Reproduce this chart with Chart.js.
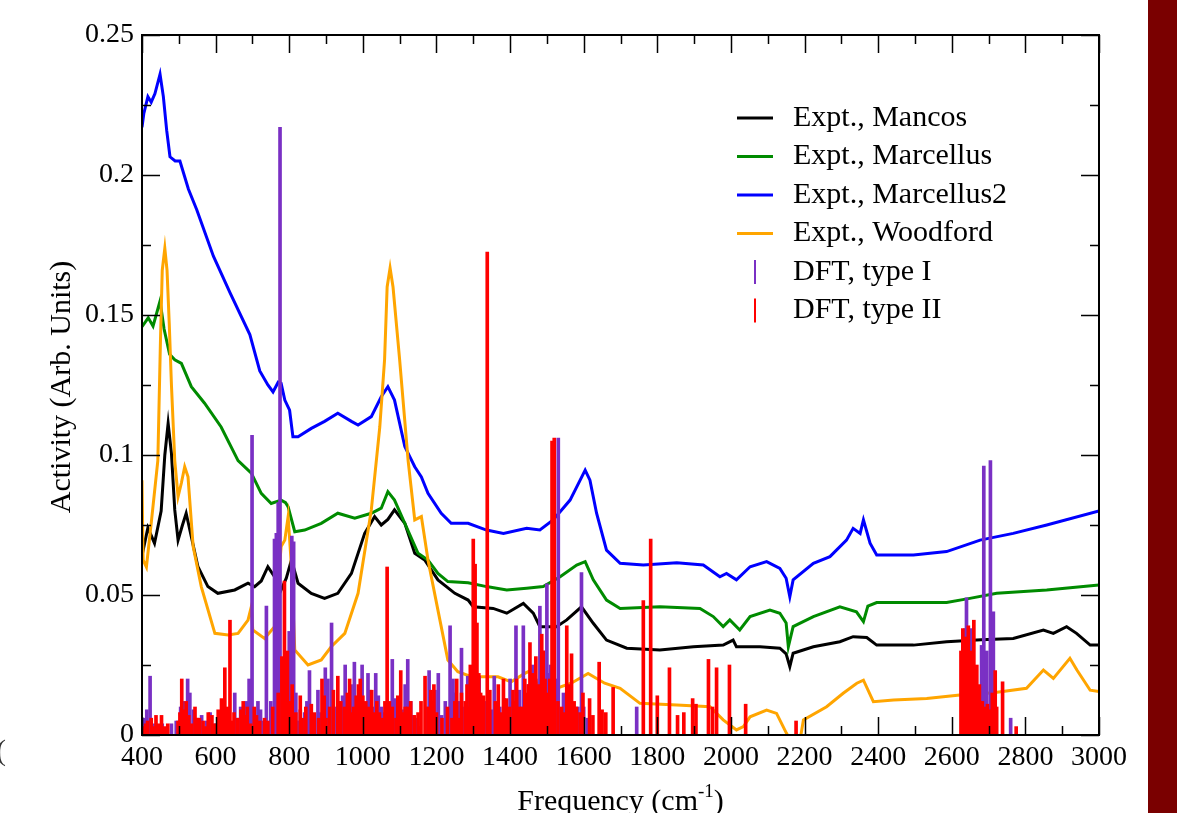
<!DOCTYPE html>
<html>
<head>
<meta charset="utf-8">
<script src="https://cdn.jsdelivr.net/npm/chart.js@4.4.1/dist/chart.umd.min.js"></script>
<style>
  body { margin: 0; background: #fff; }
  #wrap { position: relative; width: 1177px; height: 813px; overflow: hidden; }
  #side { position: absolute; left: 1148px; top: 0; width: 29px; height: 813px; background: #7a0000; }
  #frag { position: absolute; left: -4px; top: 733px; font: 30px "Liberation Serif", serif; color: #333; }
</style>
</head>
<body>
<div id="wrap">
  <canvas id="spectra" width="1177" height="813"></canvas>
  <div id="side"></div>
  <div id="frag">(</div>
</div>
<script>
// x ticks / y ticks
const xTickVals = [400, 600, 800, 1000, 1200, 1400, 1600, 1800, 2000, 2200, 2400, 2600, 2800, 3000];
const yTickVals = [0, 0.05, 0.1, 0.15, 0.2, 0.25];
const yTickLabels = ['0', '0.05', '0.1', '0.15', '0.2', '0.25'];

const seriesNames = ['Expt., Mancos', 'Expt., Marcellus', 'Expt., Marcellus2', 'Expt., Woodford', 'DFT, type I', 'DFT, type II'];
const seriesColors = ['#000000', '#008b00', '#0000ff', '#ffa500', '#7a30c4', '#ff0000'];

// Mancos (black)
const mancosFreq = [400,416,434,452,462,471,480,489,498,510,520,534,552,579,606,652,688,706,724,742,760,778,792,806,824,860,896,932,969,1005,1032,1050,1068,1086,1114,1141,1168,1204,1250,1286,1300,1354,1391,1436,1463,1481,1526,1554,1594,1626,1662,1717,1807,1898,1979,2006,2015,2079,2133,2150,2160,2169,2224,2296,2332,2369,2396,2496,2586,2680,2767,2849,2876,2912,2939,2976,3000];
const mancosVal = [0.064,0.074,0.0685,0.080,0.100,0.1113,0.1006,0.0804,0.0696,0.075,0.0792,0.0708,0.0601,0.053,0.0506,0.0518,0.0542,0.053,0.055,0.0601,0.0565,0.0518,0.056,0.0625,0.0542,0.0506,0.0488,0.0506,0.0577,0.072,0.078,0.075,0.077,0.0804,0.0756,0.0649,0.0625,0.0554,0.0506,0.0482,0.0458,0.0452,0.0435,0.047,0.0435,0.0387,0.0387,0.0411,0.0458,0.0399,0.0339,0.031,0.0304,0.0315,0.0321,0.0339,0.0315,0.0315,0.031,0.029,0.0244,0.0292,0.0315,0.0333,0.0351,0.0348,0.0321,0.0321,0.0333,0.034,0.0345,0.0375,0.0363,0.0387,0.0363,0.0321,0.0321];

// Marcellus (green)
const marcellusFreq = [400,417,430,449,460,475,489,507,534,570,615,661,697,724,751,778,790,797,815,842,887,932,978,1023,1050,1068,1086,1114,1150,1177,1204,1231,1286,1336,1391,1445,1490,1536,1581,1604,1626,1662,1699,1807,1916,1952,1979,1997,2024,2052,2106,2133,2150,2156,2169,2224,2296,2341,2360,2372,2396,2496,2586,2649,2722,2858,3000];
const marcellusVal = [0.1458,0.149,0.146,0.155,0.145,0.136,0.134,0.1327,0.1244,0.1185,0.110,0.098,0.0935,0.0863,0.0827,0.0839,0.083,0.0815,0.0726,0.0732,0.0756,0.0792,0.0774,0.0792,0.081,0.0869,0.0839,0.0756,0.0649,0.0625,0.0577,0.0548,0.0544,0.053,0.0518,0.0524,0.053,0.0565,0.0607,0.0619,0.0554,0.0482,0.0452,0.0458,0.0452,0.0423,0.0387,0.0411,0.0375,0.0423,0.0446,0.0435,0.040,0.0315,0.0387,0.0423,0.0458,0.044,0.0405,0.046,0.0473,0.0473,0.0473,0.0488,0.0506,0.0518,0.0536];

// Marcellus2 (blue)
const marcellus2Freq = [400,405,416,425,435,449,458,467,476,490,503,526,549,594,639,693,720,742,756,770,778,788,801,810,824,860,896,932,969,987,1023,1050,1068,1086,1114,1141,1159,1177,1213,1240,1286,1336,1382,1445,1481,1517,1563,1604,1617,1635,1662,1699,1762,1853,1925,1970,1988,2015,2052,2097,2133,2150,2160,2169,2224,2269,2314,2332,2351,2360,2378,2396,2496,2586,2677,2767,2858,3000];
const marcellus2Val = [0.217,0.222,0.228,0.226,0.229,0.236,0.228,0.216,0.2065,0.205,0.205,0.195,0.1875,0.171,0.158,0.143,0.130,0.125,0.1225,0.126,0.1256,0.1196,0.116,0.1065,0.1065,0.1095,0.112,0.1149,0.112,0.1107,0.1137,0.1208,0.1244,0.1196,0.103,0.0958,0.0922,0.0863,0.0792,0.0756,0.0756,0.0732,0.072,0.0738,0.0732,0.0768,0.0839,0.0946,0.091,0.0792,0.066,0.0613,0.0607,0.0615,0.0607,0.0565,0.0577,0.0554,0.0601,0.0619,0.0595,0.056,0.0494,0.0554,0.0613,0.0637,0.0696,0.0738,0.072,0.0768,0.0685,0.0643,0.0643,0.0655,0.0696,0.072,0.075,0.080];

// Woodford (orange)
const woodfordFreq = [400,403,412,425,443,450,455,462,468,474,480,489,498,507,516,525,539,561,598,634,661,688,697,701,733,760,778,788,797,806,815,851,887,914,951,987,1023,1046,1059,1066,1074,1082,1100,1123,1141,1159,1177,1204,1231,1258,1295,1367,1403,1440,1458,1476,1512,1566,1612,1657,1699,1753,1853,1943,1979,2015,2034,2052,2097,2124,2151,2170,2185,2197,2260,2305,2342,2360,2387,2442,2532,2622,2713,2803,2849,2876,2921,2940,2976,3000];
const woodfordVal = [0.091,0.0625,0.060,0.0756,0.098,0.140,0.166,0.1738,0.166,0.147,0.125,0.098,0.0851,0.090,0.0958,0.0922,0.0673,0.053,0.0363,0.0357,0.0363,0.041,0.0458,0.0375,0.0345,0.0387,0.0673,0.0696,0.078,0.0601,0.0304,0.025,0.0268,0.0315,0.0363,0.0506,0.0804,0.110,0.134,0.160,0.1668,0.160,0.134,0.098,0.0768,0.078,0.0625,0.0446,0.0268,0.0226,0.0208,0.0208,0.019,0.022,0.0232,0.0173,0.016,0.0185,0.022,0.0185,0.0167,0.0113,0.0107,0.0101,0.0054,0.0018,0.003,0.0065,0.0089,0.0077,0.0006,-0.004,-0.004,0.0054,0.0101,0.0149,0.0185,0.0196,0.0119,0.0125,0.013,0.0143,0.0151,0.0167,0.0232,0.0202,0.0274,0.0232,0.016,0.0155];

// DFT type I (purple sticks)
const dft1Freq = [405,413,422,430,445,455,480,493,505,512,524,530,540,550,562,576,585,600,612,630,640,652,662,668,678,684,691,699,707,715,722,728,738,745,750,760,765,770,775,782,790,800,807,812,818,825,830,842,848,855,862,868,878,885,898,905,915,922,935,945,952,958,968,977,985,998,1005,1014,1020,1028,1035,1042,1050,1060,1080,1088,1096,1102,1108,1115,1122,1130,1138,1145,1155,1172,1180,1188,1196,1205,1214,1224,1237,1245,1252,1260,1268,1276,1285,1295,1308,1316,1322,1330,1340,1350,1357,1372,1384,1392,1400,1408,1416,1425,1436,1443,1450,1456,1462,1470,1476,1481,1490,1495,1500,1505,1510,1518,1525,1531,1540,1545,1556,1584,1594,1600,1610,1744,2629,2636,2640,2654,2665,2681,2687,2695,2705,2713,2760];
const dft1Val = [0.006,0.009,0.021,0.004,0.003,0.004,0.004,0.005,0.010,0.012,0.020,0.015,0.009,0.006,0.007,0.005,0.008,0.004,0.005,0.006,0.004,0.015,0.006,0.010,0.008,0.012,0.020,0.107,0.006,0.012,0.009,0.005,0.046,0.004,0.012,0.070,0.072,0.083,0.217,0.025,0.020,0.037,0.071,0.069,0.015,0.005,0.009,0.008,0.012,0.023,0.006,0.006,0.016,0.008,0.024,0.020,0.040,0.010,0.012,0.014,0.025,0.009,0.018,0.026,0.012,0.025,0.009,0.022,0.016,0.010,0.022,0.014,0.010,0.008,0.027,0.013,0.010,0.008,0.009,0.018,0.027,0.012,0.007,0.006,0.003,0.010,0.023,0.012,0.016,0.022,0.007,0.012,0.039,0.020,0.015,0.012,0.031,0.010,0.021,0.014,0.010,0.021,0.008,0.012,0.012,0.009,0.021,0.010,0.013,0.008,0.020,0.012,0.039,0.016,0.039,0.010,0.018,0.014,0.025,0.020,0.012,0.046,0.030,0.018,0.054,0.022,0.025,0.012,0.020,0.106,0.009,0.015,0.008,0.010,0.058,0.010,0.006,0.010,0.021,0.038,0.049,0.038,0.020,0.032,0.096,0.030,0.098,0.044,0.006];

// DFT type II (red sticks)
const dft2Freq = [402,410,415,425,432,438,445,453,462,470,498,503,508,516,520,527,535,544,548,556,566,572,580,590,597,607,616,620,625,632,639,645,650,660,669,675,683,686,695,705,711,720,733,742,755,770,780,787,795,800,808,818,830,835,845,860,868,880,889,895,900,910,920,932,940,950,958,964,970,975,982,988,993,1000,1008,1016,1024,1030,1038,1045,1052,1060,1066,1072,1080,1090,1095,1103,1108,1115,1122,1130,1140,1150,1158,1169,1178,1185,1193,1200,1215,1230,1242,1250,1255,1262,1268,1278,1283,1288,1292,1296,1300,1305,1310,1315,1320,1328,1338,1345,1360,1368,1376,1382,1390,1398,1408,1412,1418,1426,1432,1440,1445,1450,1454,1460,1466,1470,1478,1486,1490,1495,1500,1508,1514,1520,1530,1540,1548,1554,1560,1567,1574,1580,1590,1598,1616,1625,1642,1650,1660,1680,1762,1782,1800,1833,1855,1872,1896,1905,1939,1950,1961,1996,2040,2177,2625,2630,2634,2638,2642,2645,2650,2655,2660,2664,2668,2672,2675,2678,2683,2692,2697,2700,2705,2710,2714,2718,2722,2738,2775];
const dft2Val = [0.003,0.004,0.005,0.006,0.003,0.007,0.004,0.007,0.003,0.004,0.005,0.008,0.020,0.009,0.012,0.007,0.004,0.010,0.006,0.006,0.005,0.003,0.008,0.007,0.004,0.009,0.013,0.007,0.024,0.010,0.041,0.005,0.008,0.006,0.009,0.012,0.007,0.010,0.004,0.010,0.007,0.005,0.006,0.005,0.010,0.015,0.028,0.055,0.030,0.012,0.018,0.008,0.014,0.006,0.010,0.011,0.008,0.006,0.020,0.014,0.006,0.010,0.016,0.021,0.012,0.010,0.015,0.020,0.008,0.010,0.014,0.018,0.020,0.014,0.012,0.010,0.016,0.008,0.012,0.008,0.006,0.012,0.060,0.012,0.010,0.006,0.014,0.023,0.008,0.010,0.010,0.012,0.007,0.008,0.012,0.021,0.010,0.016,0.018,0.008,0.006,0.010,0.006,0.012,0.020,0.006,0.015,0.012,0.018,0.010,0.025,0.020,0.070,0.061,0.040,0.022,0.015,0.014,0.1725,0.016,0.012,0.018,0.008,0.020,0.013,0.010,0.016,0.012,0.020,0.010,0.010,0.020,0.015,0.018,0.033,0.022,0.012,0.028,0.018,0.036,0.030,0.020,0.015,0.020,0.105,0.106,0.012,0.010,0.008,0.039,0.018,0.029,0.012,0.010,0.008,0.015,0.013,0.007,0.026,0.009,0.008,0.017,0.048,0.070,0.014,0.024,0.007,0.008,0.013,0.011,0.027,0.010,0.024,0.025,0.011,0.005,0.030,0.038,0.020,0.035,0.022,0.039,0.030,0.028,0.041,0.020,0.025,0.016,0.018,0.012,0.012,0.010,0.011,0.008,0.009,0.015,0.012,0.023,0.010,0.019,0.003];

// pair up two arrays, sorted by frequency
const xy = (xs, ys) => xs.map((x, i) => ({ x: x, y: ys[i] })).sort((a, b) => a.x - b.x);
const serif = '"Liberation Serif", "Times New Roman", serif';

function lineSet(i, xs, ys, order) {
    return {
        type: 'line', label: seriesNames[i], data: xy(xs, ys),
        borderColor: seriesColors[i], borderWidth: 3, pointRadius: 0,
        tension: 0, fill: false, order: order
    };
}
function stickSet(i, xs, ys, order) {
    return {
        type: 'bar', label: seriesNames[i], data: xy(xs, ys),
        backgroundColor: seriesColors[i], borderWidth: 0,
        barThickness: 3, grouped: false, order: order
    };
}

// frame, inward ticks, legend and axis titles
const decor = {
    id: 'decor',
    afterDatasetsDraw(chart) {
        const { ctx, chartArea: a, scales: { x, y } } = chart;
        ctx.save();
        ctx.strokeStyle = '#000';
        ctx.lineWidth = 1.5;
        ctx.beginPath();
        for (let v = 400; v <= 3000; v += 100) {
            const len = v % 200 === 0 ? 18 : 9;
            const px = Math.round(x.getPixelForValue(v)) + 0.5;
            ctx.moveTo(px, a.bottom); ctx.lineTo(px, a.bottom - len);
            ctx.moveTo(px, a.top); ctx.lineTo(px, a.top + len);
        }
        for (let k = 0; k <= 10; k++) {
            const len = k % 2 === 0 ? 18 : 9;
            const py = Math.round(y.getPixelForValue(k * 0.025)) + 0.5;
            ctx.moveTo(a.left, py); ctx.lineTo(a.left + len, py);
            ctx.moveTo(a.right, py); ctx.lineTo(a.right - len, py);
        }
        ctx.stroke();
        ctx.lineWidth = 2;
        ctx.strokeRect(a.left, a.top, a.width, a.height);

        // legend
        ctx.font = '30px ' + serif;
        ctx.textBaseline = 'middle';
        ctx.fillStyle = '#000';
        seriesNames.forEach((name, i) => {
            const ry = 118 + i * 38.5;
            ctx.strokeStyle = seriesColors[i];
            ctx.beginPath();
            if (i < 4) {
                ctx.lineWidth = 3;
                ctx.moveTo(737, ry); ctx.lineTo(773, ry);
            } else {
                ctx.lineWidth = 2;
                ctx.moveTo(755, ry - 12); ctx.lineTo(755, ry + 12);
            }
            ctx.stroke();
            ctx.fillText(name, 793, ry);
        });

        // axis titles
        ctx.textBaseline = 'alphabetic';
        const main = 'Frequency (cm';
        ctx.font = '30px ' + serif;
        const w1 = ctx.measureText(main).width;
        ctx.font = '19px ' + serif;
        const w2 = ctx.measureText('-1').width;
        ctx.font = '30px ' + serif;
        const w3 = ctx.measureText(')').width;
        const tx = (a.left + a.right) / 2 - (w1 + w2 + w3) / 2;
        ctx.textAlign = 'left';
        ctx.fillText(main, tx, 810);
        ctx.font = '19px ' + serif;
        ctx.fillText('-1', tx + w1, 797);
        ctx.font = '30px ' + serif;
        ctx.fillText(')', tx + w1 + w2, 810);

        ctx.translate(62, (a.top + a.bottom) / 2 + 2);
        ctx.rotate(-Math.PI / 2);
        ctx.textAlign = 'center';
        ctx.textBaseline = 'middle';
        ctx.fillText('Activity (Arb. Units)', 0, 0);
        ctx.restore();
    }
};

new Chart(document.getElementById('spectra'), {
    data: {
        datasets: [
            lineSet(0, mancosFreq, mancosVal, 6),
            lineSet(1, marcellusFreq, marcellusVal, 5),
            lineSet(2, marcellus2Freq, marcellus2Val, 4),
            lineSet(3, woodfordFreq, woodfordVal, 3),
            stickSet(4, dft1Freq, dft1Val, 2),
            stickSet(5, dft2Freq, dft2Val, 1)
        ]
    },
    options: {
        responsive: false,
        animation: false,
        layout: { padding: { top: 35, right: 78, left: 0, bottom: 0 } },
        plugins: { legend: { display: false }, tooltip: { enabled: false } },
        scales: {
            x: {
                type: 'linear', min: 400, max: 3000, offset: false,
                grid: { display: false, drawTicks: false, tickLength: 0, offset: false },
                border: { display: false },
                afterBuildTicks: s => { s.ticks = xTickVals.map(v => ({ value: v })); },
                afterFit: s => { s.height = 78; },
                ticks: {
                    color: '#000', padding: 6, maxRotation: 0, autoSkip: false,
                    font: { family: serif, size: 28 },
                    callback: (v, i) => String(xTickVals[i])
                }
            },
            y: {
                type: 'linear', min: 0, max: 0.25,
                grid: { display: false, drawTicks: false, tickLength: 0 },
                border: { display: false },
                afterBuildTicks: s => { s.ticks = yTickVals.map(v => ({ value: v })); },
                afterFit: s => { s.width = 142; },
                ticks: {
                    color: '#000', padding: 8, font: { family: serif, size: 28 },
                    callback: (v, i) => yTickLabels[i]
                }
            }
        }
    },
    plugins: [decor]
});
</script>
</body>
</html>
